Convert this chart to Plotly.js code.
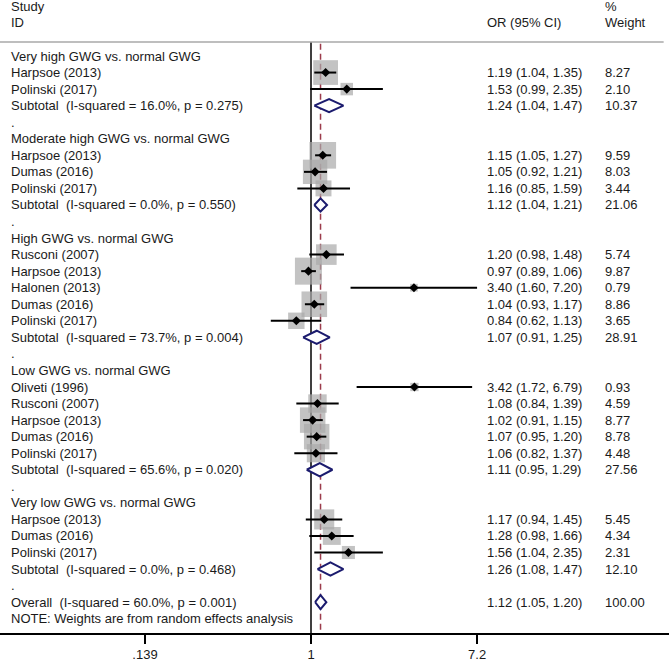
<!DOCTYPE html>
<html>
<head>
<meta charset="utf-8">
<script src="https://cdn.plot.ly/plotly-3.0.1.min.js"></script>
<style>html,body{margin:0;padding:0;background:#fff;}#chart{width:669px;height:663px;}</style>
</head>
<body>
<div id="chart"></div>
<script>
// ---- Data ----
const groupTitles = ["Very high GWG vs. normal GWG", "Moderate high GWG vs. normal GWG", "High GWG vs. normal GWG", "Low GWG vs. normal GWG", "Very low GWG vs. normal GWG"];
const studyGroup = [0,0, 1,1,1, 2,2,2,2,2, 3,3,3,3,3, 4,4,4];
const studyLabels = ["Harpsoe (2013)","Polinski (2017)",
  "Harpsoe (2013)","Dumas (2016)","Polinski (2017)",
  "Rusconi (2007)","Harpsoe (2013)","Halonen (2013)","Dumas (2016)","Polinski (2017)",
  "Oliveti (1996)","Rusconi (2007)","Harpsoe (2013)","Dumas (2016)","Polinski (2017)",
  "Harpsoe (2013)","Dumas (2016)","Polinski (2017)"];
const studyOR = [1.19,1.53, 1.15,1.05,1.16, 1.20,0.97,3.40,1.04,0.84, 3.42,1.08,1.02,1.07,1.06, 1.17,1.28,1.56];
const studyLo = [1.04,0.99, 1.05,0.92,0.85, 0.98,0.89,1.60,0.93,0.62, 1.72,0.84,0.91,0.95,0.82, 0.94,0.98,1.04];
const studyHi = [1.35,2.35, 1.27,1.21,1.59, 1.48,1.06,7.20,1.17,1.13, 6.79,1.39,1.15,1.20,1.37, 1.45,1.66,2.35];
const studyWt = [8.27,2.10, 9.59,8.03,3.44, 5.74,9.87,0.79,8.86,3.65, 0.93,4.59,8.77,8.78,4.48, 5.45,4.34,2.31];
const subI2 = [16.0, 0.0, 73.7, 65.6, 0.0];
const subP = [0.275, 0.550, 0.004, 0.020, 0.468];
const subOR = [1.24, 1.12, 1.07, 1.11, 1.26];
const subLo = [1.04, 1.04, 0.91, 0.95, 1.08];
const subHi = [1.47, 1.21, 1.25, 1.29, 1.47];
const subWt = [10.37, 21.06, 28.91, 27.56, 12.10];
const overallI2 = 60.0, overallP = 0.001;
const overallOR = 1.12, overallLo = 1.05, overallHi = 1.20, overallWt = 100.00;
const tickVals = [0.139, 1, 7.2];
const tickText = [".139", "1", "7.2"];
const noteText = "NOTE: Weights are from random effects analysis";

// ---- Layout of rows ----
const W = 669;
const FONT = "Liberation Sans, Arial, sans-serif";
const TXT = "#1a1a1a";
const px = v => v / W;
const colLabel = px(9), colOR = px(485), colWt = px(603);
const annotations = [];
function addText(x, y, text) {
  annotations.push({xref:"paper", yref:"y", x:x, y:y, text:text, showarrow:false,
    xanchor:"left", yanchor:"middle", font:{family:FONT, size:13, color:TXT}});
}
const fmtCI = (o,l,h) => o.toFixed(2) + " (" + l.toFixed(2) + ", " + h.toFixed(2) + ")";

const studyRow = new Array(studyOR.length);
const subRow = [];
let row = 0;
for (let g = 0; g < groupTitles.length; g++) {
  addText(colLabel, row, groupTitles[g]);
  row++;
  for (let i = 0; i < studyOR.length; i++) {
    if (studyGroup[i] !== g) continue;
    studyRow[i] = row;
    addText(colLabel, row, studyLabels[i]);
    addText(colOR, row, fmtCI(studyOR[i], studyLo[i], studyHi[i]));
    addText(colWt, row, studyWt[i].toFixed(2));
    row++;
  }
  subRow.push(row);
  addText(colLabel, row, "Subtotal\u00a0 (I-squared = " + subI2[g].toFixed(1) + "%, p = " + subP[g].toFixed(3) + ")");
  addText(colOR, row, fmtCI(subOR[g], subLo[g], subHi[g]));
  addText(colWt, row, subWt[g].toFixed(2));
  row++;
  addText(colLabel, row, ".");
  row++;
}
const overallRow = row;
addText(colLabel, row, "Overall\u00a0 (I-squared = " + overallI2.toFixed(1) + "%, p = " + overallP.toFixed(3) + ")");
addText(colOR, row, fmtCI(overallOR, overallLo, overallHi));
addText(colWt, row, overallWt.toFixed(2));
row++;
addText(colLabel, row, noteText);

// headers
const hdrTop = -2.99, hdrBot = -2.05, hdrLine = -0.846;
addText(colLabel, hdrTop, "Study");
addText(colLabel, hdrBot, "ID");
addText(colOR, hdrBot, "OR (95% CI)");
addText(colWt, hdrTop, "%");
addText(colWt, hdrBot, "Weight");

// ---- Traces ----
const traces = [];
traces.push({type:"scatter", mode:"markers", x:studyOR, y:studyRow, hoverinfo:"skip",
  marker:{symbol:"square", size:studyWt.map(w => 8.6*Math.sqrt(w)), color:"#a9a9a9", line:{width:0}}});
const cx = [], cy = [];
for (let i = 0; i < studyOR.length; i++) { cx.push(studyLo[i], studyHi[i], null); cy.push(studyRow[i], studyRow[i], null); }
traces.push({type:"scatter", mode:"lines", x:cx, y:cy, hoverinfo:"skip", line:{color:"#000", width:2}});
traces.push({type:"scatter", mode:"markers", x:studyOR, y:studyRow, hoverinfo:"skip",
  marker:{symbol:"diamond", size:7, color:"#000"}});
function diamond(o, l, h, r, hh) {
  traces.push({type:"scatter", mode:"lines", x:[l, o, h, o, l], y:[r, r-hh, r, r+hh, r],
    fill:"toself", fillcolor:"#fff", line:{color:"#1b1b6e", width:2}, hoverinfo:"skip"});
}
for (let g = 0; g < subOR.length; g++) diamond(subOR[g], subLo[g], subHi[g], subRow[g], 0.4);
diamond(overallOR, overallLo, overallHi, overallRow, 0.42);

// ---- Axis geometry ----
const x1px = 311, pxPerDec = 193.7;
const plotBottom = 633;
const row0px = 56, rowPx = 16.55;
const yTop = -row0px / rowPx, yBot = (plotBottom - row0px) / rowPx;

const layout = {
  width: W, height: 663,
  margin: {l:0, r:0, t:0, b:663 - plotBottom, pad:0},
  paper_bgcolor: "#fff", plot_bgcolor: "#fff",
  showlegend: false,
  font: {family: FONT, size: 13, color: TXT},
  xaxis: {type:"log", range:[-x1px/pxPerDec, (W - x1px)/pxPerDec],
    tickvals: tickVals, ticktext: tickText, ticks:"outside", ticklen:9, tickwidth:1.5, tickcolor:"#000",
    showline:true, linecolor:"#000", linewidth:1.5, showgrid:false, zeroline:false,
    tickfont:{family:FONT, size:13, color:TXT}, fixedrange:true},
  yaxis: {range:[yBot, yTop], visible:false, fixedrange:true},
  shapes: [
    {type:"line", xref:"paper", yref:"y", x0:0, x1:0.992, y0:hdrLine, y1:hdrLine, line:{color:"#a8a8a8", width:1.5}},
    {type:"line", xref:"x", yref:"y", x0:1, x1:1, y0:hdrLine, y1:yBot, line:{color:"#000", width:1.5}, layer:"below"},
    {type:"line", xref:"x", yref:"y", x0:overallOR, x1:overallOR, y0:hdrLine + 0.1, y1:yBot, line:{color:"#9c3b4b", width:1.5, dash:"6px,4px"}, layer:"below"}
  ],
  annotations: annotations
};

Plotly.newPlot("chart", traces, layout, {staticPlot:true, displayModeBar:false});
</script>
</body>
</html>
